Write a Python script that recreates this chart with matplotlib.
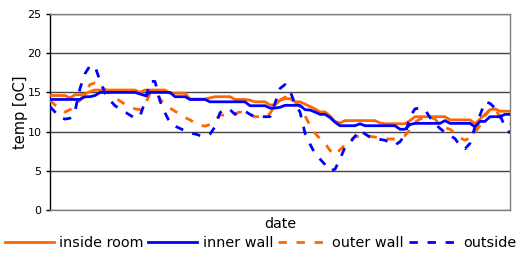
import matplotlib
matplotlib.use("Agg")
import matplotlib.pyplot as plt
import numpy as np

plt.rcParams['font.family'] = ['DejaVu Sans']

# sample index along the date axis
samples = list(range(93))

inside_room = [14.6, 14.6, 14.6, 14.6, 14.3, 14.7, 14.7, 14.8, 15.1, 15.3,
               15.3, 15.3, 15.3, 15.3, 15.3, 15.3, 15.3, 15.3, 15.0, 15.3,
               15.3, 15.3, 15.3, 15.3, 14.9, 14.9, 14.9, 14.9, 14.15, 14.15,
               14.15, 14.15, 14.3, 14.45, 14.45, 14.45, 14.45, 14.1, 14.1, 14.1,
               14.0, 13.8, 13.8, 13.8, 13.4, 13.4, 14.0, 14.2, 14.2, 13.8,
               13.8, 13.5, 13.2, 12.9, 12.5, 12.5, 12.0, 11.3, 11.1, 11.4,
               11.4, 11.4, 11.4, 11.4, 11.4, 11.4, 11.1, 11.0, 11.0, 11.0,
               11.0, 11.0, 11.4, 11.9, 11.9, 11.9, 11.9, 11.9, 11.9, 11.9,
               11.5, 11.5, 11.5, 11.5, 11.5, 11.0, 11.6, 12.2, 12.8, 12.9,
               12.6, 12.6, 12.6]

inner_wall = [14.1, 14.1, 14.1, 14.1, 14.1, 14.1, 14.1, 14.45, 14.45, 14.6,
              15.0, 15.0, 15.0, 15.0, 15.0, 15.0, 15.0, 15.0, 14.8, 14.6,
              15.0, 15.0, 15.0, 15.0, 15.0, 14.45, 14.45, 14.45, 14.1, 14.1,
              14.1, 14.1, 13.8, 13.8, 13.8, 13.8, 13.8, 13.8, 13.8, 13.8,
              13.3, 13.3, 13.3, 13.3, 13.0, 13.0, 13.1, 13.35, 13.35, 13.35,
              13.35, 12.8, 12.75, 12.5, 12.2, 12.2, 11.8, 11.2, 10.75, 10.75,
              10.75, 10.75, 11.0, 10.75, 10.75, 10.75, 10.75, 10.75, 10.75, 10.75,
              10.3, 10.3, 10.9, 11.05, 11.05, 11.05, 11.05, 11.05, 11.05, 11.4,
              11.05, 11.05, 11.05, 11.05, 11.05, 10.6, 11.3, 11.3, 11.9, 11.9,
              11.9, 12.2, 12.2]

outer_wall = [14.0, 13.4, 12.9, 12.5, 12.8, 13.2, 14.0, 15.0, 16.0, 16.2,
              15.8, 15.4, 14.8, 14.3, 13.9, 13.5, 13.2, 12.9, 12.8, 13.5,
              14.8, 15.1, 14.2, 13.4, 13.0, 12.6, 12.2, 11.8, 11.5, 11.1,
              10.8, 10.7, 10.9, 11.5, 12.1, 12.1, 12.1, 12.3, 12.5, 12.3,
              12.1, 11.9, 11.9, 11.9, 12.3, 13.4, 14.0, 14.4, 14.3, 13.8,
              13.2, 12.0, 10.8, 9.8, 9.1, 8.5, 7.6, 7.0, 7.7, 8.3,
              8.9, 9.35, 9.4, 9.4, 9.4, 9.3, 9.2, 9.1, 9.05, 9.05,
              9.2, 9.5, 10.2, 11.2, 11.6, 11.8, 11.8, 11.6, 10.8, 10.5,
              10.3, 9.8, 9.2, 8.9, 9.2, 9.9, 10.8, 12.0, 12.8, 13.0,
              11.8, 11.2, 11.0]

outside = [13.2, 12.5, 11.8, 11.6, 11.7, 12.6, 15.5, 17.4, 18.4, 18.3,
           16.5, 14.9, 14.0, 13.3, 12.9, 12.5, 12.1, 11.7, 12.0, 13.8,
           16.4, 16.4, 13.9, 12.4, 11.1, 10.7, 10.4, 10.1, 9.8, 9.7,
           9.5, 9.4, 9.7, 10.6, 12.4, 12.9, 12.8, 12.2, 12.4, 12.6,
           12.2, 11.9, 11.9, 11.9, 11.9, 13.6, 15.5, 16.0, 15.2, 13.5,
           12.5, 9.8, 8.4, 7.2, 6.5, 5.8, 5.0, 5.2, 6.5, 8.0,
           8.6, 9.4, 10.2, 9.7, 9.3, 9.1, 9.0, 8.9, 8.6, 8.3,
           8.7, 9.6, 11.9, 12.9, 13.0, 12.8, 11.8, 11.0, 10.4, 9.9,
           9.5, 9.1, 8.2, 7.8, 8.5, 10.6, 12.1, 13.8, 13.6, 13.0,
           12.1, 10.6, 9.8]

yticks = [0, 5, 10, 15, 20, 25]
series_names = ['inside room', 'inner wall', 'outer wall', 'outside']

orange = '#FF6600'
blue = '#0000FF'

fig = plt.figure(figsize=(5.21, 2.60), dpi=100)
ax = fig.add_axes([50/521, 1 - 210/260, 460/521, 196/260])

ax.plot(samples, inside_room, color=orange, lw=2.0, label=series_names[0], zorder=3)
ax.plot(samples, inner_wall, color=blue, lw=2.0, label=series_names[1], zorder=4)
ax.plot(samples, outer_wall, color=orange, lw=2.0, linestyle=(0, (3, 3.5)),
        label=series_names[2], zorder=3)
ax.plot(samples, outside, color=blue, lw=2.0, linestyle=(0, (3, 3.5)),
        label=series_names[3], zorder=3)

ax.set_xlim(samples[0], samples[-1])
ax.set_ylim(0, 25)
ax.set_yticks(yticks)
ax.set_yticklabels([str(v) for v in yticks], fontsize=8)
ax.set_xticks([])
ax.yaxis.grid(True, color='#444444', lw=1.0)
ax.set_axisbelow(True)
for side in ['top', 'right', 'bottom']:
    ax.spines[side].set_color('#808080')
    ax.spines[side].set_linewidth(1.0)
ax.spines['left'].set_color('black')
ax.spines['left'].set_linewidth(1.0)
ax.tick_params(axis='y', length=3, width=1, pad=3, color='black')

ax.set_xlabel('date', fontsize=10.3, labelpad=5)
ax.set_ylabel('temp [oC]', fontsize=10.5, labelpad=0)

fig.legend(loc='center', bbox_to_anchor=(0.5, 1 - 243/260), ncol=4, frameon=False,
           fontsize=10.4, handlelength=3.4, handletextpad=0.35, columnspacing=0.35,
           borderaxespad=0, borderpad=0)

fig.savefig('out.png', dpi=100)
